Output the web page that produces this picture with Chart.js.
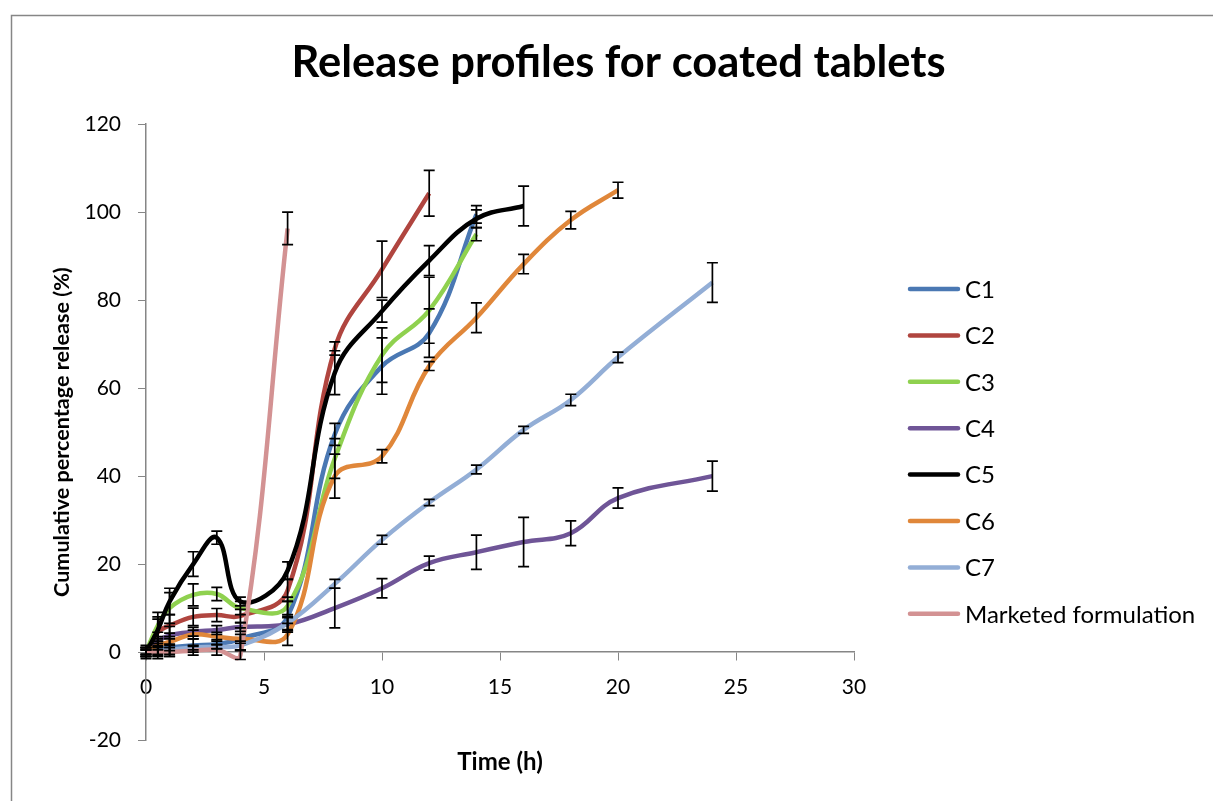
<!DOCTYPE html>
<html>
<head>
<meta charset="utf-8">
<script src="https://cdn.jsdelivr.net/npm/chart.js@4.4.0/dist/chart.umd.min.js"></script>
<style>
  html, body { margin: 0; padding: 0; background: #fff; }
</style>
</head>
<body>
<canvas id="myChart" width="1213" height="801"></canvas>
<script>
// tiempos de muestreo (h)
const hours = [0, 0.5, 1, 2, 3, 4, 6, 8, 10, 12, 14, 16, 18, 20, 24];

const seriesNames = ["C1", "C2", "C3", "C4", "C5", "C6", "C7", "Marketed formulation"];
const seriesColors = ["#4a78b3", "#b0453f", "#8fd14f", "#6f5597", "#000000", "#e0873a", "#93aed6", "#d39293"];

// valores medios (%)
const c1 = [0, 0.5, 1, 1.5, 1.8, 3, 8, 49.5, 65, 72.5, 99.5];
const c2 = [0, 4.5, 6, 8, 8.4, 8.2, 14, 69, 87, 104.3];
const c3 = [0, 6, 10, 13, 13.2, 10, 10.5, 44, 67.5, 77.7, 95];
const c4 = [0, 2.5, 3.8, 4.6, 5, 5.7, 6.3, 10, 14.5, 20.2, 22.7, 25, 27, 35, 40];
const c5 = [0, 5, 11.5, 20, 26, 11.5, 18.5, 63.5, 77.5, 89, 98.5, 101.4];
const c6 = [0, 1.5, 2.3, 4, 3.5, 3, 4, 40, 44.5, 65, 76, 88.2, 98.2, 105];
const c7 = [0, 0.2, 0.5, 1, 1.2, 1.5, 6.6, 15.5, 25.5, 34, 41.5, 50.5, 57.3, 67, 84];
const marketed = [0, 0, 0, 0.3, 0.5, -0.7, 96.3];

// desviaciones (+/-)
const c1Err = [0.5, 2, 2, 1.5, 1, 2.5, 3.5, 2.5, 6.4, 5.5, 2];
const c2Err = [1, 3, 2.5, 2, 1.5, 1.5, 2.5, 1.5, 6.4, 5.2];
const c3Err = [1, 3, 3.5, 2.5, 1.5, 1.5, 2, 4.5, 6.2, 7.5, 1.5];
const c4Err = [1, 2, 2, 1, 1, 1, 1.5, 4.5, 2.2, 1.6, 3.9, 5.6, 2.8, 2.3, 3.4];
const c5Err = [1.5, 3, 3, 2.8, 1.5, 1, 2, 5, 2.5, 3.4, 2, 4.5];
const c6Err = [1, 2, 2, 1, 1, 1, 2.5, 5, 1.5, 1, 3.4, 2.2, 2, 1.8];
const c7Err = [0.5, 1, 1, 0.5, 0.5, 1, 1.5, 1, 1, 0.7, 1, 0.8, 1.3, 1.2, 4.5];
const marketedErr = [0.5, 1, 1, 1, 1.2, 1, 3.7];

const xTicks = [0, 5, 10, 15, 20, 25, 30];
const yTicks = [-20, 0, 20, 40, 60, 80, 100, 120];

const allValues = [c1, c2, c3, c4, c5, c6, c7, marketed];
const allErrors = [c1Err, c2Err, c3Err, c4Err, c5Err, c6Err, c7Err, marketedErr];

const datasets = allValues.map((vals, i) => ({
  label: seriesNames[i],
  data: vals.map((v, j) => ({ x: hours[j], y: v })),
  errors: allErrors[i],
  borderColor: seriesColors[i],
  backgroundColor: seriesColors[i],
  borderWidth: 4.5,
  pointRadius: 0,
  tension: 0.4,
  fill: false,
  order: allValues.length - i, // la ultima serie queda encima
}));

const FONT = "Lato";

// barras de error
const errorBars = {
  id: "errorBars",
  afterDatasetsDraw(chart) {
    const { ctx, scales } = chart;
    ctx.save();
    ctx.strokeStyle = "#000";
    ctx.lineWidth = 1.7;
    chart.data.datasets.forEach((ds) => {
      ds.data.forEach((p, j) => {
        const e = ds.errors[j];
        const x = scales.x.getPixelForValue(p.x);
        const top = scales.y.getPixelForValue(p.y + e);
        const bot = scales.y.getPixelForValue(p.y - e);
        ctx.beginPath();
        ctx.moveTo(x, top);
        ctx.lineTo(x, bot);
        ctx.moveTo(x - 5.5, top);
        ctx.lineTo(x + 5.5, top);
        ctx.moveTo(x - 5.5, bot);
        ctx.lineTo(x + 5.5, bot);
        ctx.stroke();
      });
    });
    ctx.restore();
  },
};

// marco, leyenda y titulo del eje x
const extras = {
  id: "extras",
  beforeDraw(chart) {
    const ctx = chart.ctx;
    ctx.save();
    ctx.fillStyle = "#fff";
    ctx.fillRect(0, 0, chart.width, chart.height);
    ctx.strokeStyle = "#868686";
    ctx.lineWidth = 1.5;
    ctx.strokeRect(11.5, 15.5, 1400, 1000);
    ctx.restore();
  },
  afterDraw(chart) {
    const ctx = chart.ctx;
    const area = chart.chartArea;
    ctx.save();
    ctx.fillStyle = "#000";
    ctx.font = "bold 24px " + FONT;
    ctx.textAlign = "center";
    ctx.textBaseline = "middle";
    ctx.fillText("Time (h)", (area.left + area.right) / 2, 762);

    ctx.font = "24px " + FONT;
    ctx.textAlign = "left";
    ctx.lineCap = "round";
    chart.data.datasets.forEach((ds, i) => {
      const y = 289 + i * 46.4;
      ctx.strokeStyle = ds.borderColor;
      ctx.lineWidth = 4.5;
      ctx.beginPath();
      ctx.moveTo(910, y);
      ctx.lineTo(958, y);
      ctx.stroke();
      ctx.fillText(ds.label, 965, y + 1);
    });
    ctx.restore();
  },
};

const ctx = document.getElementById("myChart");

new Chart(ctx, {
  type: "line",
  data: { datasets },
  options: {
    responsive: false,
    animation: false,
    layout: { padding: { left: 24, right: 0, top: 0, bottom: 61 } },
    plugins: {
      legend: { display: false },
      tooltip: { enabled: false },
      title: {
        display: true,
        text: "Release profiles for coated tablets",
        color: "#000",
        font: { family: FONT, size: 43.5, weight: "bold" },
        padding: { top: 37, bottom: 35 },
      },
    },
    scales: {
      x: {
        type: "linear",
        position: { y: 0 },
        min: 0,
        max: 30,
        afterBuildTicks: (s) => { s.ticks = xTicks.map((v) => ({ value: v })); },
        ticks: { color: "#000", font: { family: FONT, size: 21 }, padding: 15, maxRotation: 0 },
        grid: { display: true, drawOnChartArea: false, drawTicks: true, tickLength: 8, color: "#868686" },
        border: { color: "#868686", width: 1.5 },
      },
      y: {
        min: -20,
        max: 120,
        afterBuildTicks: (s) => { s.ticks = yTicks.map((v) => ({ value: v })); },
        afterFit: (s) => { s.width = 122; },
        ticks: { color: "#000", font: { family: FONT, size: 21 }, padding: 17 },
        grid: { display: true, drawOnChartArea: false, drawTicks: true, tickLength: 8, color: "#868686" },
        border: { color: "#868686", width: 1.5 },
        title: {
          display: true,
          text: "Cumulative percentage release (%)",
          color: "#000",
          font: { family: FONT, size: 21.6, weight: "bold" },
          padding: { top: 25, bottom: 0 },
        },
      },
      side: {
        position: "right",
        display: true,
        afterFit: (s) => { s.width = 359; },
        ticks: { display: false },
        grid: { display: false },
        border: { display: false },
      },
    },
  },
  plugins: [errorBars, extras],
});
</script>
</body>
</html>
